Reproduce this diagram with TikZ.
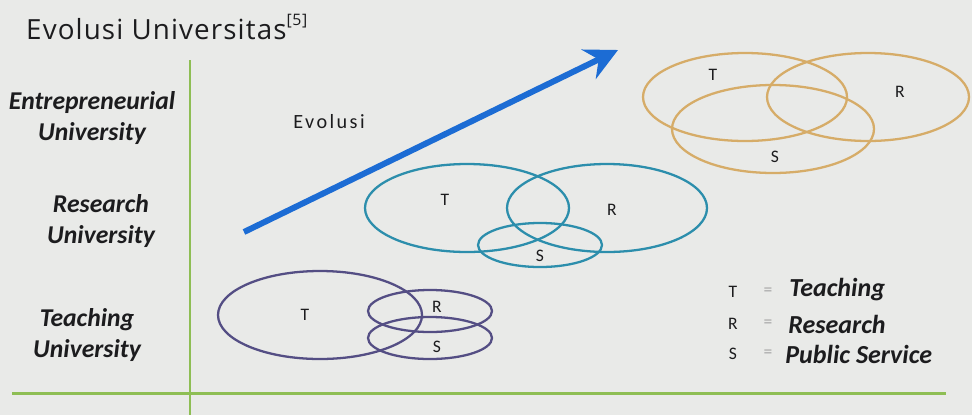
\documentclass[tikz,border=0pt]{standalone}
\usepackage{fontspec}
\setmainfont{Carlito}
\newfontfamily\spacedfont[LetterSpace=12]{Carlito}
\newfontfamily\titlefont[LetterSpace=4]{Open Sans}
\usetikzlibrary{arrows.meta,positioning,calc}
\definecolor{bgray}{RGB}{233,234,232}
\definecolor{agreen}{RGB}{142,190,84}
\definecolor{eblue}{RGB}{28,108,212}
\definecolor{tpurple}{RGB}{84,78,132}
\definecolor{rteal}{RGB}{44,142,172}
\definecolor{etan}{RGB}{214,172,104}
\definecolor{ink}{RGB}{28,28,30}

\begin{document}
\begin{tikzpicture}[x=0.02cm,y=-0.02cm,
  lvl/.style={align=center,font=\fontsize{14.6}{18}\selectfont\bfseries\itshape,text=ink},
  vlab/.style={font=\fontsize{10}{11}\selectfont,text=ink,inner sep=0pt},
  leg/.style={anchor=west,font=\fontsize{14.8}{16}\selectfont\bfseries\itshape,text=ink,inner sep=0pt},
  tch/.style={draw=tpurple,line width=1.3pt},
  rsc/.style={draw=rteal,line width=1.3pt},
  ent/.style={draw=etan,line width=1.3pt},
  axis/.style={draw=agreen,line width=1.7pt},
  arr/.style={-{Stealth[length=6.5mm,width=6.5mm,inset=2.2mm]},line width=3.4pt,eblue}]
\fill[bgray] (0,0) rectangle (972,415);
\node[anchor=west,font=\titlefont\fontsize{15.8}{18}\selectfont,text=ink] (title) at (20,27) {Evolusi Universitas\raisebox{0.9ex}{\fontsize{9}{10}\selectfont[5]}};
% axes
\coordinate (ytop) at (190,60);
\coordinate (ybot) at (190,415);
\coordinate (xl) at (12,393);
\coordinate (xr) at (946,393);
\draw[axis] (ytop) -- (ybot);
\draw[axis] (xl) -- (xr);
% levels
\node[lvl] (entu) at (92,118) {Entrepreneurial\\University};
\node[lvl] (resu) at (101,221) {Research\\University};
\node[lvl] (tchu) at (87,335) {Teaching\\University};
% evolution arrow
\coordinate (evoS) at (244,232);
\coordinate (evoE) at (618,50);
\draw[arr] (evoS) -- (evoE);
\node[font=\spacedfont\fontsize{11.5}{13}\selectfont,text=ink] (evo) at (329,122) {Evolusi};
% teaching university
\draw[tch] (320,315) ellipse (102 and 44);
\draw[tch] (430,311) ellipse (62 and 21);
\draw[tch] (430,338) ellipse (62 and 21);
\node[vlab] (t1) at (305,315) {T};
\node[vlab] (r1) at (437,307) {R};
\node[vlab] (s1) at (437,347) {S};
% research university
\draw[rsc] (467,208) ellipse (102 and 44);
\draw[rsc] (607,208) ellipse (100 and 44);
\draw[rsc] (540,245) ellipse (62 and 22);
\node[vlab] (t2) at (445,200) {T};
\node[vlab] (r2) at (612,210) {R};
\node[vlab] (s2) at (540,256) {S};
% entrepreneurial university
\draw[ent] (745,97) ellipse (102 and 44);
\draw[ent] (868,97) ellipse (101 and 44);
\draw[ent] (773,129) ellipse (101 and 44);
\node[vlab] (t3) at (713,75) {T};
\node[vlab] (r3) at (900,92) {R};
\node[vlab] (s3) at (775,157) {S};
% legend
\node[vlab] (lt) at (733,292) {T};
\node[vlab] (lr) at (733,324) {R};
\node[vlab] (ls) at (733,354) {S};
\node[vlab,text=gray!70] (et) at (768,292) {=};
\node[vlab,text=gray!70] (er) at (768,324) {=};
\node[vlab,text=gray!70] (es) at (768,354) {=};
\node[leg] (wt) at (789,290) {Teaching};
\node[leg] (wr) at (788,324) {Research};
\node[leg] (ws) at (785,354) {Public Service};
\end{tikzpicture}
\end{document}
